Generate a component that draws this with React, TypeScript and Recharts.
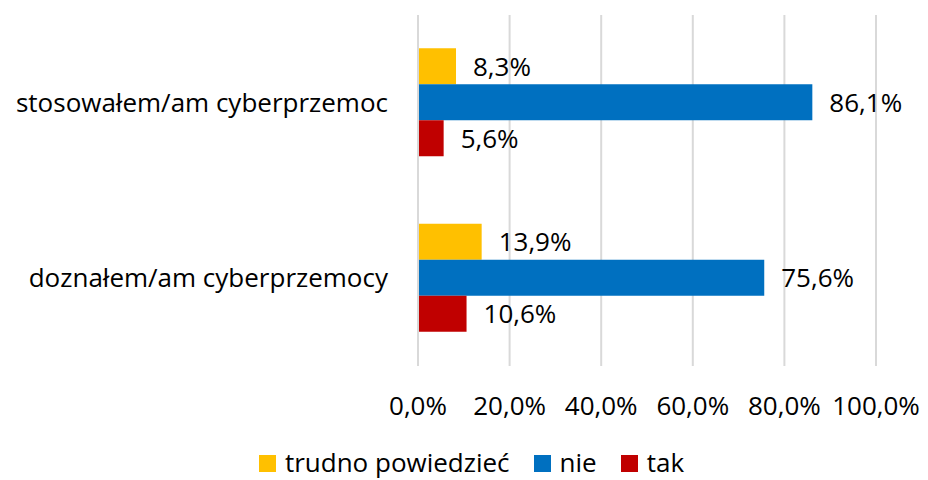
import React from 'react';
import { BarChart, Bar, XAxis, YAxis, CartesianGrid, Legend, LabelList } from 'recharts';

const categories = ['stosowałem/am cyberprzemoc', 'doznałem/am cyberprzemocy'];
const trudnoValues = [8.3, 13.9];
const nieValues = [86.1, 75.6];
const takValues = [5.6, 10.6];
const xTicks = [0, 20, 40, 60, 80, 100];

const series = [
  { key: 'trudno', name: 'trudno powiedzieć', color: '#FFC000' },
  { key: 'nie', name: 'nie', color: '#0070C0' },
  { key: 'tak', name: 'tak', color: '#C00000' },
];

const data = categories.map((name, i) => ({
  name,
  trudno: trudnoValues[i],
  nie: nieValues[i],
  tak: takValues[i],
}));

const FONT = '"Open Sans", "Noto Sans", sans-serif';
const fmt = (v: number) => v.toFixed(1).replace('.', ',') + '%';

const LegendContent = () => (
  <div style={{ height: 36, display: 'flex', justifyContent: 'center', alignItems: 'center', fontFamily: FONT, fontSize: 26, lineHeight: '30px', color: '#000', paddingLeft: 67, boxSizing: 'border-box' }}>
    {series.map((s) => (
      <span key={s.key} style={{ display: 'flex', alignItems: 'center', margin: '0 12px' }}>
        <span style={{ width: 17, height: 17, background: s.color, display: 'inline-block', marginRight: 9, marginTop: 3 }} />
        {s.name}
      </span>
    ))}
  </div>
);

export default function App() {
  return (
    <div style={{ position: 'absolute', left: 0, top: 0, width: 928, height: 480, background: '#fff' }}>
      <BarChart
        width={928}
        height={480}
        data={data}
        layout="vertical"
        margin={{ top: 15, right: 52, left: 0, bottom: 0 }}
        barCategoryGap="19%"
        barGap={0}
      >
        <CartesianGrid horizontal={false} stroke="#d9d9d9" strokeWidth={2} />
        <XAxis
          type="number"
          domain={[0, 100]}
          ticks={xTicks}
          tickFormatter={fmt}
          axisLine={false}
          tickLine={false}
          tickSize={0}
          tickMargin={31}
          height={78}
          tick={{ fill: '#000', fontSize: 26, fontFamily: FONT }}
          interval={0}
        />
        <YAxis
          type="category"
          dataKey="name"
          width={418}
          axisLine={{ stroke: '#d9d9d9', strokeWidth: 2 }}
          tickLine={false}
          tickSize={0}
          tickMargin={30}
          tick={{ fill: '#000', fontSize: 26, fontFamily: FONT }}
        />
        <Legend verticalAlign="bottom" content={<LegendContent />} />
        {series.map((s) => (
          <Bar key={s.key} dataKey={s.key} name={s.name} fill={s.color} isAnimationActive={false}>
            <LabelList dataKey={s.key} position="right" offset={17} formatter={fmt} style={{ fill: '#000', fontSize: 26, fontFamily: FONT }} />
          </Bar>
        ))}
      </BarChart>
    </div>
  );
}
